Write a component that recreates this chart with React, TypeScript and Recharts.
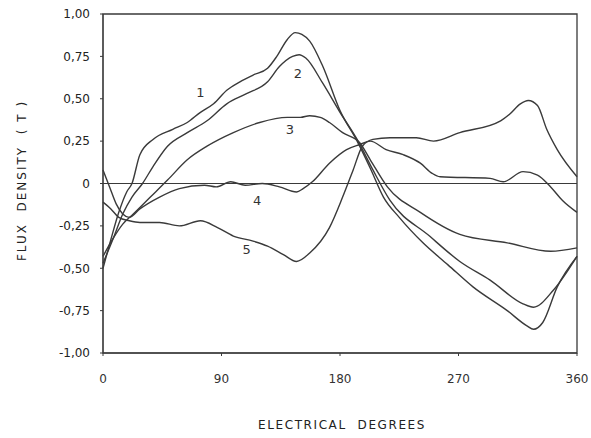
import React from 'react';
import {
  LineChart,
  Line,
  XAxis,
  YAxis,
  ReferenceLine,
  ReferenceArea,
  ReferenceDot
} from 'recharts';

// [electrical degrees, flux density (T)]
const curve1: [number, number][] = [
  [0, -0.5], [6, -0.33], [12, -0.17], [18, -0.05], [22, 0], [28, 0.17], [38, 0.26],
  [53, 0.32], [64, 0.36], [74, 0.42], [84, 0.47], [94, 0.55], [104, 0.6], [114, 0.64],
  [125, 0.68], [132, 0.75], [140, 0.85], [146, 0.89], [151, 0.88], [157, 0.84],
  [167, 0.69], [180, 0.43], [193, 0.25], [203, 0.09], [213, -0.08], [225, -0.2],
  [243, -0.35], [262, -0.48], [281, -0.61], [307, -0.75], [322, -0.84], [327, -0.86],
  [334, -0.82], [345, -0.61], [360, -0.43]
];

const curve2: [number, number][] = [
  [0, -0.47], [8, -0.32], [15, -0.18], [22, -0.08], [30, 0], [38, 0.1], [49, 0.22],
  [64, 0.3], [79, 0.37], [94, 0.47], [109, 0.53], [125, 0.6], [134, 0.69], [144, 0.75],
  [149, 0.76], [154, 0.74], [167, 0.59], [180, 0.42], [193, 0.26], [205, 0.08],
  [218, -0.1], [248, -0.31], [271, -0.46], [294, -0.57], [319, -0.71], [327, -0.73],
  [342, -0.63], [360, -0.43]
];

const curve3: [number, number][] = [
  [0, -0.43], [8, -0.32], [15, -0.24], [23, -0.18], [36, -0.08], [49, 0.02], [64, 0.14],
  [79, 0.22], [99, 0.3], [119, 0.36], [140, 0.39], [150, 0.39], [157, 0.4], [165, 0.39],
  [172, 0.36], [182, 0.3], [195, 0.24], [203, 0.14], [216, -0.02], [241, -0.17],
  [271, -0.3], [307, -0.35], [340, -0.4], [360, -0.38]
];

const curve4: [number, number][] = [
  [0, 0.08], [5, -0.02], [10, -0.12], [15, -0.18], [20, -0.2], [28, -0.15], [43, -0.08],
  [58, -0.03], [77, -0.01], [86, -0.02], [97, 0.01], [108, -0.01], [121, 0], [134, -0.02],
  [147, -0.05], [152, -0.03], [159, 0.01], [172, 0.12], [185, 0.2], [195, 0.23],
  [203, 0.25], [215, 0.2], [228, 0.17], [241, 0.12], [250, 0.06], [256, 0.04],
  [294, 0.03], [304, 0.01], [319, 0.07], [330, 0.05], [340, -0.02], [349, -0.1], [360, -0.17]
];

const curve5: [number, number][] = [
  [0, -0.11], [6, -0.15], [12, -0.2], [20, -0.22], [28, -0.23], [43, -0.23], [58, -0.25],
  [74, -0.22], [87, -0.26], [99, -0.31], [114, -0.34], [125, -0.37], [137, -0.42],
  [147, -0.46], [157, -0.41], [172, -0.26], [182, -0.08], [190, 0.08], [197, 0.22],
  [205, 0.26], [218, 0.27], [238, 0.27], [251, 0.25], [271, 0.3], [302, 0.37],
  [309, 0.41], [317, 0.47], [323, 0.49], [330, 0.46], [337, 0.32], [345, 0.2], [360, 0.04]
];

const curves = [curve1, curve2, curve3, curve4, curve5];

// curve number annotations: [label, degrees, T]
const curveTags: [string, number, number][] = [
  ['1', 74, 0.54],
  ['2', 148, 0.65],
  ['3', 142, 0.32],
  ['4', 117, -0.1],
  ['5', 109, -0.39]
];

const xTicks = [0, 90, 180, 270, 360];
const yTicks = [-1, -0.75, -0.5, -0.25, 0, 0.25, 0.5, 0.75, 1];

const INK = '#3a3a3a';
const FONT = '"DejaVu Sans", sans-serif';

const fmtY = (v: number) => {
  if (v === 0) return '0';
  return v.toFixed(2).replace('.', ',');
};

const YTitle = (props: any) => {
  const { viewBox } = props;
  const cx = viewBox.x + 22;
  const cy = viewBox.y + viewBox.height / 2 - 3;
  return (
    <text
      x={cx}
      y={cy}
      transform={`rotate(-90 ${cx} ${cy})`}
      textAnchor="middle"
      dominantBaseline="central"
      fontSize={12}
      fontFamily={FONT}
      fill="#222"
      letterSpacing={2}
      style={{ whiteSpace: 'pre' }}
    >
      {'FLUX  DENSITY  ( T )'}
    </text>
  );
};

const XTitle = (props: any) => {
  const { viewBox } = props;
  const cx = viewBox.x + viewBox.width / 2 + 2;
  const cy = viewBox.y + 72;
  return (
    <text
      x={cx}
      y={cy}
      textAnchor="middle"
      dominantBaseline="central"
      fontSize={12}
      fontFamily={FONT}
      fill="#222"
      letterSpacing={1.6}
      style={{ whiteSpace: 'pre' }}
    >
      {'ELECTRICAL  DEGREES'}
    </text>
  );
};

export default function App() {
  return (
    <div style={{ position: 'fixed', left: 0, top: 0, background: '#fff', width: 591, height: 438 }}>
      <LineChart
        width={591}
        height={438}
        margin={{ top: 14, right: 14, bottom: 0, left: 0 }}
      >
        <XAxis
          type="number"
          dataKey="x"
          domain={[0, 360]}
          ticks={xTicks}
          allowDuplicatedCategory={false}
          height={85}
          tickSize={3}
          tickMargin={18}
          stroke={INK}
          tick={{ fontSize: 12, fontFamily: FONT, fill: '#333' }}
          label={<XTitle />}
        />
        <YAxis
          type="number"
          dataKey="y"
          domain={[-1, 1]}
          ticks={yTicks}
          width={103}
          tickSize={3}
          tickMargin={10}
          stroke={INK}
          tickFormatter={fmtY}
          tick={{ fontSize: 12, fontFamily: FONT, fill: '#222' }}
          label={<YTitle />}
        />
        <ReferenceArea
          x1={0}
          x2={360}
          y1={-1}
          y2={1}
          fill="none"
          stroke={INK}
          strokeWidth={1.3}
          ifOverflow="extendDomain"
        />
        <ReferenceLine y={0} stroke={INK} strokeWidth={1.2} />
        {curves.map((c, i) => (
          <Line
            key={`curve-${i}`}
            data={c.map(([x, y]) => ({ x, y }))}
            dataKey="y"
            type="monotone"
            stroke={INK}
            strokeWidth={1.4}
            dot={false}
            isAnimationActive={false}
          />
        ))}
        {curveTags.map(([name, x, y]) => (
          <ReferenceDot
            key={`tag-${name}`}
            x={x}
            y={y}
            r={0}
            fill="none"
            stroke="none"
            label={{
              value: name,
              position: 'center',
              fontSize: 13,
              fontFamily: FONT,
              fill: '#333'
            }}
          />
        ))}
      </LineChart>
    </div>
  );
}
